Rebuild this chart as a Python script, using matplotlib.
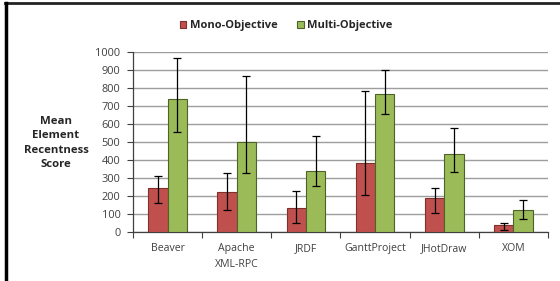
import matplotlib
matplotlib.use('Agg')
import matplotlib.pyplot as plt
from matplotlib.patches import Patch
from matplotlib.lines import Line2D
import numpy as np

plt.rcParams['font.family'] = ['Open Sans', 'DejaVu Sans']

# ---- data ----
projects = ['Beaver', 'Apache\nXML-RPC', 'JRDF', 'GanttProject', 'JHotDraw', 'XOM']
mono = [245, 224, 137, 383, 191, 39]
mono_lo = [160, 126, 50, 207, 105, 11]
mono_hi = [311, 331, 229, 781, 246, 53]
multi = [737, 502, 337, 765, 431, 126]
multi_lo = [556, 331, 257, 655, 333, 72]
multi_hi = [964, 863, 535, 900, 579, 179]
yticks = list(range(0, 1001, 100))

RED = '#C0504D'
RED_EDGE = '#7F2F2C'
GREEN = '#9BBB59'
GREEN_EDGE = '#4F6228'
TXT = '#404040'

fig = plt.figure(figsize=(5.6, 2.81), dpi=100)
ax = fig.add_axes([133 / 560, 1 - 232.3 / 281, (548 - 133) / 560, (232.3 - 51.7) / 281])

x = np.arange(len(projects))
w = 0.28

def yerr(v, lo, hi):
    v = np.array(v)
    return [v - np.array(lo), np.array(hi) - v]

ekw = dict(ecolor='black', elinewidth=0.9, capsize=3, capthick=0.9)
ax.bar(x - w / 2, mono, w, color=RED, edgecolor=RED_EDGE, linewidth=0.8,
       yerr=yerr(mono, mono_lo, mono_hi), error_kw=ekw, zorder=3)
ax.bar(x + w / 2, multi, w, color=GREEN, edgecolor=GREEN_EDGE, linewidth=0.8,
       yerr=yerr(multi, multi_lo, multi_hi), error_kw=ekw, zorder=3)

ax.set_xlim(-0.5, len(projects) - 0.5)
ax.set_ylim(0, 1000)
ax.set_yticks(yticks)
ax.set_yticklabels([str(t) for t in yticks])
ax.yaxis.grid(True, color='#9E9E9E', linewidth=1.0, zorder=0)
ax.set_axisbelow(True)

ax.set_xticks(x)
ax.set_xticklabels(projects, linespacing=1.6)
ax.set_xticks(np.arange(-0.5, len(projects)), minor=True)
ax.tick_params(axis='x', which='major', length=0, pad=8, labelsize=7.6, labelcolor=TXT)
ax.tick_params(axis='x', which='minor', length=4, width=0.8, color='#404040', direction='out')
ax.tick_params(axis='y', length=4, width=0.8, color='#404040', pad=5, labelsize=7.9, labelcolor=TXT)

for s in ['top', 'right']:
    ax.spines[s].set_visible(False)
for s in ['left', 'bottom']:
    ax.spines[s].set_color('#404040')
    ax.spines[s].set_linewidth(0.9)

fig.text(56 / 560, 1 - 143 / 281, 'Mean\nElement\nRecentness\nScore', ha='center', va='center',
         fontsize=8.2, fontweight='bold', color='#262626', linespacing=1.45)

handles = [Patch(facecolor=RED, edgecolor=RED_EDGE, linewidth=0.8, label='Mono-Objective'),
           Patch(facecolor=GREEN, edgecolor=GREEN_EDGE, linewidth=0.8, label='Multi-Objective')]
leg = fig.legend(handles=handles, loc='center', bbox_to_anchor=(0.511, 1 - 25.7 / 281), ncol=2,
                 frameon=False, handlelength=0.6, handleheight=0.6, handletextpad=0.3,
                 columnspacing=1.8, prop={'size': 8, 'weight': 'bold'})
for t in leg.get_texts():
    t.set_color('#262626')

# outer frame (top and left edges only)
fig.add_artist(Line2D([5 / 560, 1], [1 - 3 / 281] * 2, transform=fig.transFigure, color='#222222', linewidth=2))
fig.add_artist(Line2D([6 / 560] * 2, [0, 1 - 3 / 281], transform=fig.transFigure, color='black', linewidth=2.5))

fig.savefig('out.png', dpi=100)
